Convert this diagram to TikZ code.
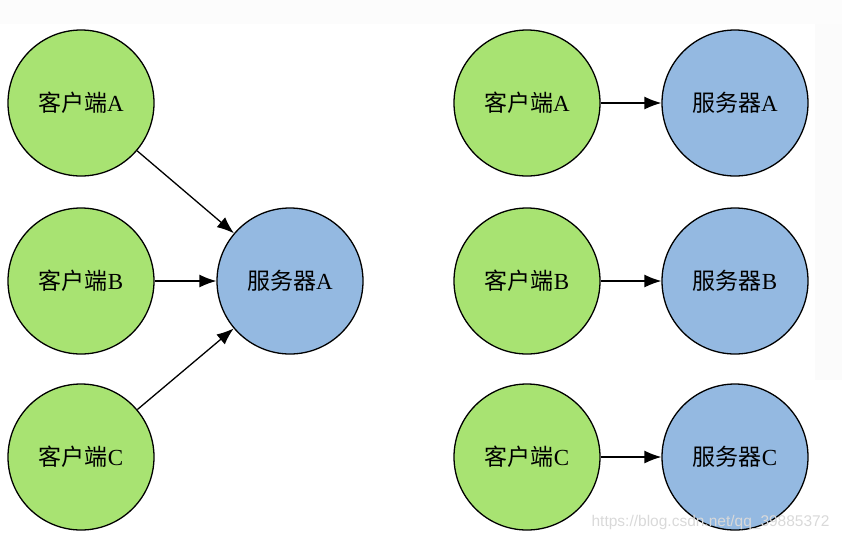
\documentclass[tikz,border=0pt]{standalone}
\usepackage{fontspec}
\setmainfont{Liberation Serif}
\newfontfamily\cjk{Noto Sans CJK SC}
\newfontfamily\wmfont{Liberation Sans}
\usetikzlibrary{arrows.meta}
\definecolor{cgreen}{HTML}{A8E372}
\definecolor{sblue}{HTML}{94B9E1}
\begin{document}
\begin{tikzpicture}[x=1pt,y=-1pt,
  nd/.style={circle,draw=black,line width=1.3pt,minimum size=146pt,inner sep=0pt,font=\fontsize{23}{27}\selectfont},
  client/.style={nd,fill=cgreen},
  server/.style={nd,fill=sblue},
  conn/.style={line width=1.3pt,-{Latex[length=17pt,width=13pt]}}]
\useasboundingbox (0,0) rectangle (842,542);
\fill[gray!2.5] (0,0) rectangle (842,24);
\fill[gray!3] (815,24) rectangle (842,380);
% left diagram
\node[client] (lca) at (81,103) {{\cjk 客户端}A};
\node[client] (lcb) at (81,281) {{\cjk 客户端}B};
\node[client] (lcc) at (81,457) {{\cjk 客户端}C};
\node[server] (lsa) at (290,281) {{\cjk 服务器}A};
\draw[conn] (lca) -- (lsa);
\draw[conn] (lcb) -- (lsa);
\draw[conn] (lcc) -- (lsa);
% right diagram
\node[client] (rca) at (527,103) {{\cjk 客户端}A};
\node[client] (rcb) at (527,281) {{\cjk 客户端}B};
\node[client] (rcc) at (527,457) {{\cjk 客户端}C};
\node[server] (rsa) at (735,103) {{\cjk 服务器}A};
\node[server] (rsb) at (735,281) {{\cjk 服务器}B};
\node[server] (rsc) at (735,457) {{\cjk 服务器}C};
\draw[conn] (rca) -- (rsa);
\draw[conn] (rcb) -- (rsb);
\draw[conn] (rcc) -- (rsc);
\node[text=gray!30,font=\wmfont\fontsize{15.5}{18}\selectfont,anchor=east] (wm) at (833,522) {https://blog.csdn.net/qq\_39885372};
\end{tikzpicture}
\end{document}
